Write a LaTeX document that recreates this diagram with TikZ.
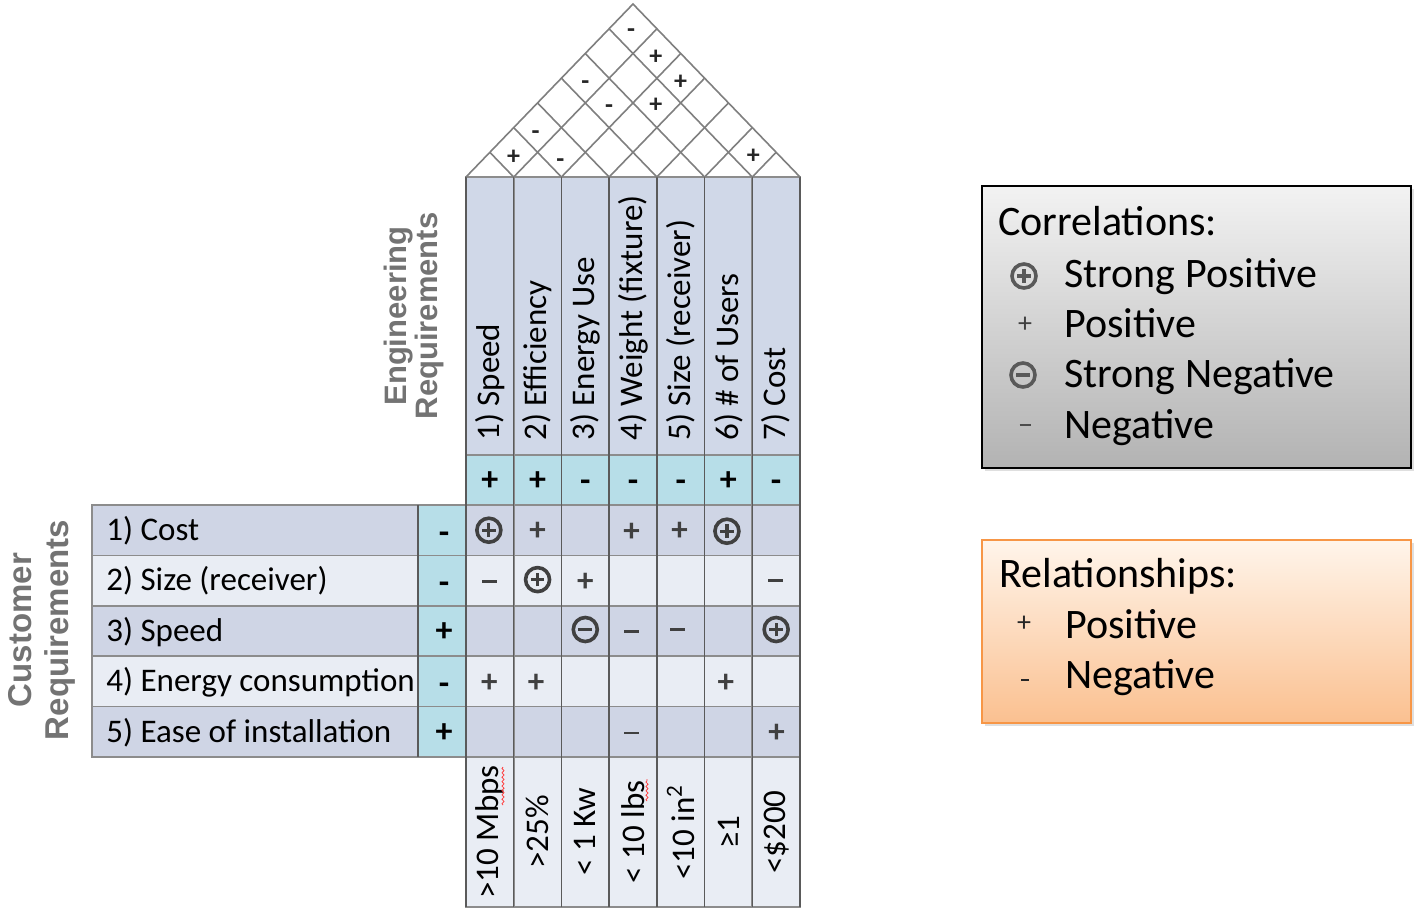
\documentclass[tikz,border=0pt]{standalone}
\usepackage{fontspec}
\setmainfont{Carlito}
\newfontfamily\titlefont{Liberation Sans}
\usetikzlibrary{decorations.pathmorphing,shadows}
\definecolor{hdr}{HTML}{D0D8E8}
\definecolor{rowA}{HTML}{CFD5E5}
\definecolor{rowB}{HTML}{E9EDF4}
\definecolor{imp}{HTML}{B7DEE8}
\definecolor{gridc}{HTML}{8C8C8C}
\definecolor{vgrid}{HTML}{5A5A5A}
\definecolor{symc}{HTML}{404040}
\definecolor{titc}{HTML}{737373}
\definecolor{roofc}{HTML}{7F7F7F}
\definecolor{orangeB}{HTML}{F79646}
\begin{document}
\begin{tikzpicture}[x=0.5pt,y=-0.5pt,
  cell/.style={draw=gridc, line width=0.8pt},
  vline/.style={draw=vgrid, line width=0.7pt},
  roof/.style={draw=roofc, line width=0.8pt},
  lbl/.style={font=\fontsize{16.5}{19}\selectfont, inner sep=0pt, text=black},
  hlbl/.style={lbl, rotate=90, anchor=west},
  tlbl/.style={lbl, rotate=90, anchor=center},
  clbl/.style={lbl, anchor=base west},
  impsign/.style={font=\fontsize{17}{19}\selectfont\bfseries, inner sep=0pt, text height=10pt, text depth=0pt},
  mplus/.style={font=\fontsize{16.5}{18}\selectfont\bfseries, text=symc, inner sep=0pt, text height=9.8pt, text depth=0pt},
  mdash/.style={text=symc, inner sep=0pt},
  spos/.style={circle, draw=#1, line width=1.8pt, minimum size=12pt, inner sep=0pt,
    path picture={\draw[#1, line width=1.6pt] (path picture bounding box.center) ++(-3.4pt,0) -- ++(6.8pt,0)
      (path picture bounding box.center) ++(0,-3.4pt) -- ++(0,6.8pt);}},
  sneg/.style={circle, draw=#1, line width=1.8pt, minimum size=12pt, inner sep=0pt,
    path picture={\draw[#1, line width=1.6pt] (path picture bounding box.center) ++(-3.4pt,0) -- ++(6.8pt,0);}},
  rsign/.style={font=\fontsize{13}{15}\selectfont\bfseries, text=black!85, inner sep=0pt, text height=7.6pt, text depth=0pt},
  title/.style={font=\titlefont\bfseries\fontsize{15.5}{15.5}\selectfont, text=titc, rotate=90, align=center, inner sep=0pt},
  legtxt/.style={font=\fontsize{21}{25}\selectfont, anchor=base west, inner sep=0pt},
  legsym/.style={font=\fontsize{14}{16}\selectfont, text=symc, inner sep=0pt},
  squig/.style={draw=red!75, line width=0.4pt, decorate, decoration={snake, amplitude=0.5pt, segment length=2.2pt}}
]
\useasboundingbox (0,0) rectangle (1414,907);
\def\W{47.714}
% ---------- engineering header, importance, targets ----------
\foreach \k in {0,...,6}{
  \draw[cell, fill=hdr] ({466+\k*\W},177) rectangle ({466+(\k+1)*\W},455);
  \draw[cell, fill=imp] ({466+\k*\W},455) rectangle ({466+(\k+1)*\W},505);
  \draw[cell, fill=rowB] ({466+\k*\W},757) rectangle ({466+(\k+1)*\W},907);
}
% ---------- customer rows ----------
\foreach \j in {1,...,5}{
  \pgfmathsetmacro\ya{505+(\j-1)*50.4}
  \pgfmathsetmacro\yb{505+\j*50.4}
  \pgfmathtruncatemacro\odd{mod(\j,2)}
  \ifnum\odd=1 \def\rc{rowA}\else\def\rc{rowB}\fi
  \draw[cell, fill=\rc] (92,\ya) rectangle (418,\yb);
  \draw[cell, fill=imp] (418,\ya) rectangle (466,\yb);
  \foreach \k in {0,...,6}{
    \draw[cell, fill=\rc] ({466+\k*\W},\ya) rectangle ({466+(\k+1)*\W},\yb);
  }
}
\foreach \k in {0,...,7}{
  \draw[vline] ({466+\k*\W},177) -- ({466+\k*\W},907);
}
\draw[vline] (418,505) -- (418,757);
% ---------- roof ----------
\draw[roof] (466,177) -- (633,4) -- (800,177);
\foreach \k in {1,...,6}{
  \pgfmathsetmacro\xk{466+\k*\W}
  \draw[roof] (\xk,177) -- ({(\xk+800)/2},{177-(800-\xk)/2*1.035});
  \draw[roof] (\xk,177) -- ({(466+\xk)/2},{177-(\xk-466)/2*1.035});
}
\node[rsign] (r12) at (513.7,157) {+};
\node[rsign] (r23) at (560.4,160) {-};
\node[rsign] (r13) at (535.6,132) {-};
\node[rsign] (r15) at (585.3,82) {-};
\node[rsign] (r25) at (609.1,106) {-};
\node[rsign] (r27) at (655.9,57) {+};
\node[rsign] (r36) at (655.9,105) {+};
\node[rsign] (r37) at (680.7,82) {+};
\node[rsign] (r17) at (631,30) {-};
\node[rsign] (r67) at (753.3,156) {+};
% ---------- engineering labels ----------
\node[hlbl] (e1) at (489.86,441) {1) Speed};
\node[hlbl] (e2) at (537.57,441) {2) Efficiency};
\node[hlbl] (e3) at (585.29,441) {3) Energy Use};
\node[hlbl] (e4) at (633.00,441) {4) Weight (fixture)};
\node[hlbl] (e5) at (680.71,441) {5) Size (receiver)};
\node[hlbl] (e6) at (728.43,441) {6) \# of Users};
\node[hlbl] (e7) at (776.14,441) {7) Cost};
% importance of engineering requirements
\node[impsign] (ei1) at (489.86,480) {+};
\node[impsign] (ei2) at (537.57,480) {+};
\node[impsign] (ei3) at (585.29,481) {-};
\node[impsign] (ei4) at (633.00,481) {-};
\node[impsign] (ei5) at (680.71,481) {-};
\node[impsign] (ei6) at (728.43,480) {+};
\node[impsign] (ei7) at (776.14,481) {-};
% ---------- customer labels ----------
\node[clbl] (c1) at (106,540.5) {1) Cost};
\node[clbl] (c2) at (106,590.9) {2) Size (receiver)};
\node[clbl] (c3) at (106,641.3) {3) Speed};
\node[clbl] (c4) at (106,691.7) {4) Energy consumption};
\node[clbl] (c5) at (106,742.1) {5) Ease of installation};
\node[impsign] (ci1) at (444,533) {-};
\node[impsign] (ci2) at (444,583.4) {-};
\node[impsign] (ci3) at (444,631.8) {+};
\node[impsign] (ci4) at (444,684.2) {-};
\node[impsign] (ci5) at (444,732.6) {+};
% ---------- relationship matrix ----------
\node[spos=symc] (m11) at (488.86,530.2) {};
\node[mplus] (m12) at (537.57,530.2) {+};
\node[mplus] (m14) at (631.50,531.2) {+};
\node[mplus] (m15) at (679.71,530.2) {+};
\node[spos=symc] (m16) at (726.93,531.2) {};
\node[mdash] (m21) at (489.86,581.6) {\rule{7.5pt}{1.2pt}};
\node[spos=symc] (m22) at (537.57,579.6) {};
\node[mplus] (m23) at (585.29,581.6) {+};
\node[mdash] (m27) at (775.64,580.6) {\rule{7.5pt}{1.2pt}};
\node[sneg=symc] (m33) at (585.29,629.5) {};
\node[mdash] (m34) at (631.50,631.5) {\rule{7.5pt}{1.2pt}};
\node[mdash] (m35) at (677.71,629.5) {\rule{7.5pt}{1.2pt}};
\node[spos=symc] (m37) at (776.14,629.5) {};
\node[mplus] (m41) at (489.36,682.4) {+};
\node[mplus] (m42) at (536.07,682.4) {+};
\node[mplus] (m46) at (725.93,682.4) {+};
\node[mdash] (m54) at (631.50,732.8) {\rule{7.5pt}{1.2pt}};
\node[mplus] (m57) at (776.64,732.8) {+};
% ---------- targets ----------
\node[tlbl] (t1) at (489.86,832) {>10 Mbps};
\node[tlbl] (t2) at (537.57,832) {>25\%};
\node[tlbl] (t3) at (585.29,832) {< 1 Kw};
\node[tlbl] (t4) at (633.00,832) {< 10 lbs};
\node[tlbl] (t5) at (680.71,832) {<10 in\textsuperscript{2}};
\node[tlbl] (t6) at (728.43,832) {≥1};
\node[tlbl] (t7) at (776.14,832) {<\$200};
\draw[squig] (503,805) -- (503,767);
\draw[squig] (647,801) -- (647,779);
% ---------- titles ----------
\node[title] (engt) at (414,316) {Engineering\\Requirements};
\node[title, font=\titlefont\bfseries\fontsize{16.5}{18.5}\selectfont] (cust) at (42,630) {Customer\\Requirements};
% ---------- legends ----------
\node[anchor=north west, minimum width=214.5pt, minimum height=141pt, draw=black, line width=1.1pt,
  top color=black!5, bottom color=black!30, drop shadow={shadow xshift=1.5pt, shadow yshift=-1.5pt, opacity=0.25}]
  (corr) at (981,185) {};
\node[legtxt] (corrt) at (998,235) {Correlations:};
\node[spos=black!65] (l1s) at (1024,276) {};
\node[legtxt] (l1t) at (1064,287) {Strong Positive};
\node[legsym] (l2s) at (1025,325) {+};
\node[legtxt] (l2t) at (1064,337) {Positive};
\node[sneg=black!65] (l3s) at (1023,375) {};
\node[legtxt] (l3t) at (1064,387) {Strong Negative};
\node[mdash, text=black!70] (l4s) at (1025,425) {\rule{5.5pt}{0.8pt}};
\node[legtxt] (l4t) at (1064,438) {Negative};
\node[anchor=north west, minimum width=214.5pt, minimum height=91.5pt, draw=orangeB, line width=1.1pt,
  top color=orange!8!white, bottom color=orangeB!60!white, drop shadow={shadow xshift=1.5pt, shadow yshift=-1.5pt, opacity=0.25}]
  (rel) at (981,539) {};
\node[legtxt] (relt) at (999,587) {Relationships:};
\node[legsym, text=black!85] (r1s) at (1024,624) {+};
\node[mdash, text=black!85] (r2s) at (1025,680) {\rule{4pt}{1.1pt}};
\node[legtxt] (r1t) at (1065,638) {Positive};
\node[legtxt] (r2t) at (1065,688) {Negative};
\end{tikzpicture}
\end{document}
